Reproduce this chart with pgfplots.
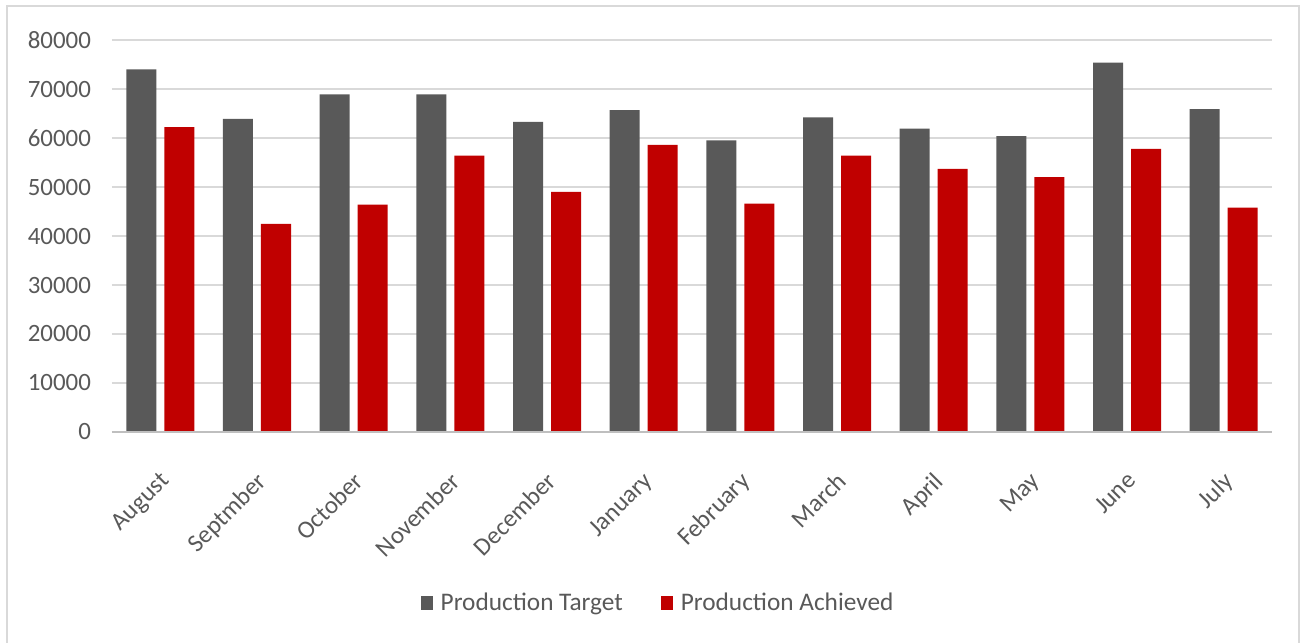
\documentclass[border=0pt]{standalone}
\usepackage{pgfplots}
\pgfplotsset{compat=1.18}
\usepackage{fontspec}
\setmainfont{Carlito}
\definecolor{tgt}{HTML}{595959}
\definecolor{ach}{HTML}{C00000}
\definecolor{gridc}{HTML}{D9D9D9}
\definecolor{txt}{HTML}{595959}
\begin{document}
\begin{tikzpicture}
\useasboundingbox (-56bp,-105.5bp) rectangle (594.5bp,216bp);
\draw[gridc, line width=1bp] (-52.5bp,-115bp) -- (-52.5bp,213bp) -- (593.5bp,213bp) -- (593.5bp,-115bp);
\begin{axis}[
  scale only axis,
  width=580bp, height=196bp,
  ymin=0, ymax=80000,
  xmin=-0.5, xmax=11.5,
  ytick={0,10000,...,80000},
  xtick={0,...,11},
  xticklabels={August,Septmber,October,November,December,January,February,March,April,May,June,July},
  axis line style={draw=none},
  xtick style={draw=none}, ytick style={draw=none},
  major tick length=0pt,
  ymajorgrids, xmajorgrids=false,
  scaled y ticks=false,
  grid style={draw=gridc, line width=0.7bp},
  /pgf/number format/assume math mode=true,
  /pgf/number format/1000 sep={},
  tick label style={font=\fontsize{12.5}{14}\selectfont, text=txt},
  yticklabel style={xshift=-7bp},
  xticklabel style={rotate=45, anchor=north east, inner sep=1bp, xshift=-13bp, yshift=-12bp},
  ybar, bar width=15bp,
  legend style={at={(0.4716,-0.436)}, anchor=center, draw=none, legend columns=2,
    font=\fontsize{12.7}{14}\selectfont, text=txt,
    /tikz/every even column/.append style={column sep=17bp}},
  legend image code/.code={\fill[#1] (0bp,-3.5bp) rectangle (6bp,3.5bp);},
  legend cell align=left,
  clip=false,
]
\addplot[fill=tgt, draw=none, bar shift=-9.5bp] coordinates {
 (0,74000) (1,63900) (2,68900) (3,68900) (4,63300) (5,65700)
 (6,59500) (7,64200) (8,61900) (9,60400) (10,75400) (11,65900)};
\addplot[fill=ach, draw=none, bar shift=9.5bp] coordinates {
 (0,62200) (1,42500) (2,46400) (3,56400) (4,49000) (5,58600)
 (6,46600) (7,56400) (8,53700) (9,52000) (10,57800) (11,45800)};
\legend{\hspace{2bp}Production Target,\hspace{2bp}Production Achieved}
\draw[gray!50, line width=1.2bp] (axis cs:-0.5,0) -- (axis cs:11.5,0);
\end{axis}
\end{tikzpicture}
\end{document}
